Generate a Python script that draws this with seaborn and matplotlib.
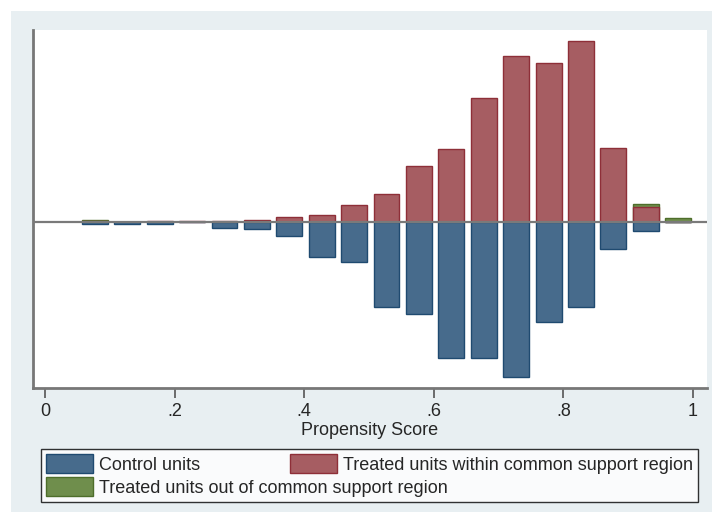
import matplotlib
matplotlib.use("Agg")
import matplotlib.pyplot as plt
import seaborn as sns
import numpy as np
from matplotlib.patches import Rectangle, Patch

# ---- data ----
centers = [0.077, 0.127, 0.177, 0.227, 0.277, 0.327, 0.377, 0.427, 0.477, 0.527,
           0.577, 0.627, 0.677, 0.727, 0.777, 0.827, 0.877, 0.927, 0.977]
treated_on = [1, 0, 1, 1, 1, 2, 5, 7, 17, 28, 56, 73, 124, 166, 159, 181, 74, 15, 0]
control = [1.5, 1.7, 1.7, 0, 6, 7, 14, 35, 40, 85, 92, 136, 136, 155, 100, 85, 27, 9, 0]
off_centers = [0.077, 0.927, 0.977]
treated_off = [0.7, 3, 4.5]

xticks = [0, 0.2, 0.4, 0.6, 0.8, 1.0]
xticklabels = ["0", ".2", ".4", ".6", ".8", "1"]
labels = ["Control units",
          "Treated units within common support region",
          "Treated units out of common support region"]

sns.set_theme(style="white")
plt.rcParams['font.family'] = ['Liberation Sans Narrow', 'Liberation Sans', 'DejaVu Sans']

c_blue, e_blue = "#476b8c", "#1f4a70"
c_red, e_red = "#a65d62", "#8e2f38"
c_green, e_green = "#6f8e4c", "#4e6e2b"
bg = "#e8eff2"

fig = plt.figure(figsize=(7.14, 5.23), dpi=100)
fig.patch.set_facecolor("white")
fig.patches.append(Rectangle((11/714, 1 - 512/523), (712-11)/714, (512-11)/523,
                             transform=fig.transFigure, facecolor=bg,
                             edgecolor="none", zorder=-10))

ax = fig.add_axes([33/714, 1 - 388/523, (707-33)/714, (388-30)/523])
ax.set_facecolor("white")

# green totals drawn first (red covers the lower part)
red_lookup = dict(zip(centers, treated_on))
green_total = [red_lookup.get(c, 0) + g for c, g in zip(off_centers, treated_off)]

sns.barplot(x=off_centers, y=green_total, native_scale=True, errorbar=None,
            width=0.8, color=c_green, edgecolor=e_green, linewidth=1,
            saturation=1, ax=ax)
sns.barplot(x=centers, y=treated_on, native_scale=True, errorbar=None,
            width=0.8, color=c_red, edgecolor=e_red, linewidth=1,
            saturation=1, ax=ax)
sns.barplot(x=centers, y=[-v for v in control], native_scale=True, errorbar=None,
            width=0.8, color=c_blue, edgecolor=e_blue, linewidth=1,
            saturation=1, ax=ax)

ax.axhline(0, color="#7a7a7a", lw=1.6, zorder=5)

ax.set_xlim(-0.0185, 1.0215)
ax.set_ylim(-166, 192)
ax.set_xticks(xticks)
ax.set_xticklabels(xticklabels, fontsize=13)
ax.set_yticks([])
ax.set_ylabel("")
ax.set_xlabel("Propensity Score", fontsize=13, labelpad=1)
ax.tick_params(axis="x", direction="out", length=7, width=1.2, color="#555555",
               pad=4, bottom=True)
for s in ["top", "right"]:
    ax.spines[s].set_visible(False)
for s in ["left", "bottom"]:
    ax.spines[s].set_color("#777777")
    ax.spines[s].set_linewidth(2)

handles = [Patch(facecolor=c_blue, edgecolor=e_blue),
           Patch(facecolor=c_green, edgecolor=e_green),
           Patch(facecolor=c_red, edgecolor=e_red)]
hl = [labels[0], labels[2], labels[1]]
leg = fig.legend(handles, hl, ncol=2, loc="lower left",
                 bbox_to_anchor=(41/714, 1 - 502/523, (698-41)/714, 51/523),
                 mode="expand", fontsize=13, frameon=True, fancybox=False,
                 edgecolor="black", handlelength=2.6, handleheight=1.2,
                 handletextpad=0.3, borderaxespad=0, borderpad=0.3,
                 labelspacing=0.2, columnspacing=0.5)
leg.get_frame().set_linewidth(1)
leg.get_frame().set_facecolor("white")

fig.savefig("out.png", dpi=100)
